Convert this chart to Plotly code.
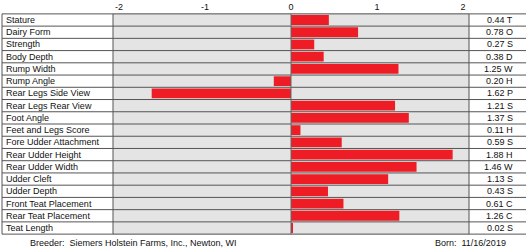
import plotly.graph_objects as go

categories = ["Stature", "Dairy Form", "Strength", "Body Depth", "Rump Width", "Rump Angle",
              "Rear Legs Side View", "Rear Legs Rear View", "Foot Angle", "Feet and Legs Score",
              "Fore Udder Attachment", "Rear Udder Height", "Rear Udder Width", "Udder Cleft",
              "Udder Depth", "Front Teat Placement", "Rear Teat Placement", "Teat Length"]
values = [0.44, 0.78, 0.27, 0.38, 1.25, -0.20, -1.62, 1.21, 1.37, 0.11,
          0.59, 1.88, 1.46, 1.13, 0.43, 0.61, 1.26, 0.02]
codes = ["T", "O", "S", "D", "W", "H", "P", "S", "S", "H",
         "S", "H", "W", "S", "S", "C", "C", "S"]
tick_vals = [-2, -1, 0, 1, 2]
tick_text = ["-2", "-1", "0", "1", "2"]
breeder = "Breeder:  Siemers Holstein Farms, Inc., Newton, WI"
born = "Born:  11/16/2019"

W, H = 526, 250
L, R, T, B = 113, 57, 13, 15
pw = W - L - R
def px(x):
    return (x - L) / pw

FONT = "Liberation Sans, Arial, sans-serif"
FS = 9

fig = go.Figure()
fig.add_trace(go.Bar(
    x=values, y=categories, orientation="h",
    marker=dict(color="#ee1c24", line=dict(width=0)),
    width=0.8, showlegend=False,
))

shapes = []
n = len(categories)
for i in range(n + 1):
    shapes.append(dict(type="line", xref="paper", yref="y", x0=px(2), x1=px(526),
                       y0=i - 0.5, y1=i - 0.5, line=dict(color="#555555", width=1)))
for xp in [px(2), 0, 1]:
    shapes.append(dict(type="line", xref="paper", yref="y", x0=xp, x1=xp,
                       y0=-0.5, y1=n - 0.5, line=dict(color="#555555", width=1)))
shapes.append(dict(type="line", xref="x", yref="y", x0=0, x1=0, y0=-0.5, y1=n - 0.5,
                   line=dict(color="#666666", width=1), layer="above"))

annotations = []
for c, v, cd in zip(categories, values, codes):
    annotations.append(dict(x=px(4), y=c, xref="paper", yref="y", text=c, showarrow=False,
                            xanchor="left", yanchor="middle", font=dict(size=FS, color="#111", family=FONT)))
    annotations.append(dict(x=px(515), y=c, xref="paper", yref="y", text=f"{abs(v):.2f} {cd}",
                            showarrow=False, xanchor="right", yanchor="middle",
                            font=dict(size=FS, color="#111", family=FONT)))
fy = -(B - 7) / (H - T - B)
annotations.append(dict(x=px(28), y=fy, xref="paper", yref="paper", text=breeder,
                        showarrow=False, xanchor="left", yanchor="middle",
                        font=dict(size=FS, color="#111", family=FONT)))
annotations.append(dict(x=px(433), y=fy, xref="paper", yref="paper", text=born,
                        showarrow=False, xanchor="left", yanchor="middle",
                        font=dict(size=FS, color="#111", family=FONT)))

fig.update_layout(
    width=W, height=H,
    margin=dict(l=L, r=R, t=T, b=B, pad=0, autoexpand=False),
    paper_bgcolor="white", plot_bgcolor="#e4e4e4",
    xaxis=dict(range=[-2.07, 2.07], side="top", tickvals=tick_vals, ticktext=tick_text, ticks="",
               showgrid=False, zeroline=False, showline=False, automargin=False,
               tickfont=dict(size=FS, color="#111", family=FONT), ticklabelstandoff=0),
    yaxis=dict(type="category", autorange="reversed", showticklabels=False, showgrid=False,
               zeroline=False, automargin=False),
    shapes=shapes, annotations=annotations, bargap=0.2,
)
fig.write_html("out.html")
